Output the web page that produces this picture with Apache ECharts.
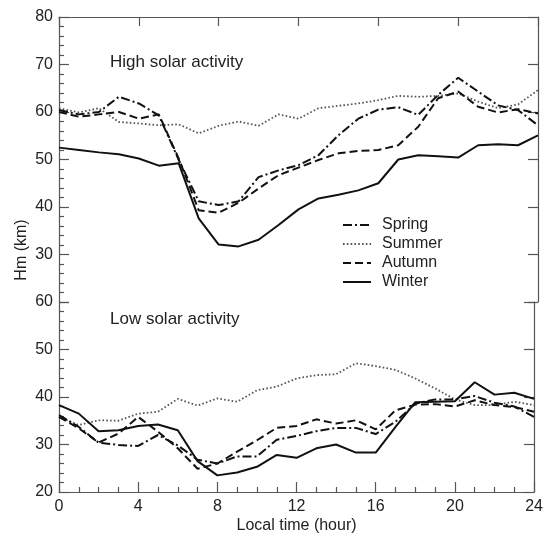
<!DOCTYPE html>
<html>
<head>
<meta charset="utf-8">
<script src="https://cdn.jsdelivr.net/npm/echarts@6/dist/echarts.min.js"></script>
<style>
html,body{margin:0;padding:0;background:#fff;}
#chart{width:546px;height:536px;}
</style>
</head>
<body>
<div id="chart"></div>
<script>
// Local time (hour)
var hours = [0,1,2,3,4,5,6,7,8,9,10,11,12,13,14,15,16,17,18,19,20,21,22,23,24];
var xTicks = [0,4,8,12,16,20,24];
var yTicksHigh = [30,40,50,60,70,80];
var yTicksLow = [20,30,40,50,60];
var seasons = ['Spring','Summer','Autumn','Winter'];

// High solar activity, Hm (km)
var highSpring = [60.4,59.5,60.0,63.2,61.8,59.3,49.9,41.2,40.4,41.2,46.3,47.7,48.8,50.9,55.1,58.6,60.5,61.0,59.4,63.6,67.2,64.3,61.4,60.4,57.2];
var highSummer = [60.8,59.9,60.8,57.9,57.6,57.2,57.4,55.5,57.1,58.0,57.1,59.5,58.6,60.8,61.3,61.8,62.5,63.4,63.2,63.4,63.9,62.2,60.8,61.6,64.6];
var highAutumn = [60.0,59.0,59.5,60.0,58.6,59.5,50.2,39.3,38.8,40.9,43.9,46.7,48.3,49.9,51.3,51.8,52.0,53.0,56.9,62.9,64.3,61.1,59.9,60.6,59.7];
var highWinter = [52.5,52.0,51.5,51.1,50.2,48.7,49.2,37.6,32.1,31.7,33.1,36.2,39.5,41.8,42.6,43.5,45.0,50.0,50.9,50.7,50.4,53.0,53.2,53.0,55.1];

// Low solar activity, Hm (km)
var lowSpring = [36.2,33.7,30.4,29.9,29.7,32.0,29.8,26.8,26.0,27.5,27.5,31.0,31.8,32.8,33.5,33.5,32.2,34.8,38.6,39.5,39.5,40.2,38.8,38.0,35.8];
var lowSummer = [35.8,34.1,35.1,35.0,36.5,36.9,39.6,38.2,39.7,39.0,41.4,42.2,43.9,44.6,44.8,47.1,46.5,45.7,43.9,41.8,39.5,38.3,38.3,39.0,38.3];
var lowAutumn = [35.8,33.4,30.4,32.3,35.8,32.7,29.2,24.9,26.0,28.5,30.9,33.5,33.9,35.3,34.4,35.1,33.2,37.2,38.4,38.5,38.0,39.3,38.3,37.9,36.9];
var lowWinter = [38.3,36.5,32.8,33.0,33.9,34.2,33.0,26.5,23.5,24.1,25.3,27.8,27.2,29.2,30.0,28.3,28.3,33.7,38.9,39.0,39.1,43.1,40.5,40.9,39.6];

function pairs(vals){ return hours.map(function(h,i){ return [h, vals[i]]; }); }

var FONT = 'Liberation Sans, Arial, sans-serif';
var AXIS_COLOR = '#555';
var styles = {
  Spring: {color:'#111', width:2, type:[9,3,2,3]},
  Summer: {color:'#555', width:1.8, type:[1.6,2.2]},
  Autumn: {color:'#111', width:2, type:[8,4]},
  Winter: {color:'#111', width:2, type:'solid'}
};

function mkSeries(name, vals, gi){
  return {
    name: name, type: 'line', xAxisIndex: gi, yAxisIndex: gi*2,
    data: pairs(vals), symbol: 'none', showSymbol: false, smooth: false,
    lineStyle: styles[name], itemStyle: {color: styles[name].color},
    emphasis: {disabled: true}, z: name === 'Summer' ? 1 : 2
  };
}

function yAxisPair(gridIndex, minV, maxV, hideMin){
  return [{
    type:'value', gridIndex:gridIndex, position:'left', min:minV, max:maxV, interval:10,
    axisLine:{show:true, lineStyle:{color:AXIS_COLOR, width:1.2}},
    axisTick:{show:true, inside:true, length:10, lineStyle:{color:AXIS_COLOR, width:1.2}},
    minorTick:{show:true, splitNumber:5, length:5, lineStyle:{color:AXIS_COLOR, width:1.2}},
    splitLine:{show:false},
    axisLabel:{show:true, margin:6, color:'#222', fontSize:16, fontFamily:FONT,
      formatter:function(v){ return (hideMin && v === minV) ? '' : String(v); }}
  },{
    type:'value', gridIndex:gridIndex, position:'right', min:minV, max:maxV, interval:10,
    axisLine:{show:true, lineStyle:{color:AXIS_COLOR, width:1.2}},
    axisTick:{show:true, inside:true, length:10, lineStyle:{color:AXIS_COLOR, width:1.2}},
    splitLine:{show:false}, axisLabel:{show:false}
  }];
}

var chart = echarts.init(document.getElementById('chart'), null, {renderer:'canvas'});
var option = {
  animation: false,
  backgroundColor: '#fff',
  grid: [
    {left:59, right:8, top:17, height:285},
    {left:59, right:8, top:302, height:190}
  ],
  xAxis: [{
    type:'value', gridIndex:0, position:'top', min:0, max:24, interval:4,
    axisLine:{show:true, lineStyle:{color:AXIS_COLOR, width:1.2}},
    axisTick:{show:true, inside:true, length:9, lineStyle:{color:AXIS_COLOR, width:1.2}},
    splitLine:{show:false}, axisLabel:{show:false}
  },{
    type:'value', gridIndex:1, position:'bottom', min:0, max:24, interval:4,
    axisLine:{show:true, lineStyle:{color:AXIS_COLOR, width:1.2}},
    axisTick:{show:true, inside:true, length:10, lineStyle:{color:AXIS_COLOR, width:1.2}},
    minorTick:{show:true, splitNumber:4, length:5, lineStyle:{color:AXIS_COLOR, width:1.2}},
    splitLine:{show:false},
    axisLabel:{show:true, margin:7, color:'#222', fontSize:16, fontFamily:FONT},
    name:'Local time (hour)', nameLocation:'middle', nameGap:26,
    nameTextStyle:{color:'#222', fontSize:16, fontFamily:FONT}
  }],
  yAxis: yAxisPair(0, 20, 80, true).concat(yAxisPair(1, 20, 60, false)),
  legend: {
    data: seasons, orient:'vertical', left:342, top:217, padding:0,
    itemWidth:28, itemHeight:14, itemGap:3,
    itemStyle:{color:'rgba(0,0,0,0)', borderColor:'rgba(0,0,0,0)', borderWidth:0, opacity:0},
    textStyle:{color:'#222', fontSize:16, fontFamily:FONT, padding:[0,0,0,6]},
    selectedMode:false
  },
  graphic: [
    {type:'text', x:110, y:62, style:{text:'High solar activity', fontSize:17, fontFamily:FONT, fill:'#222', align:'left', verticalAlign:'middle'}},
    {type:'text', x:110, y:319, style:{text:'Low solar activity', fontSize:17, fontFamily:FONT, fill:'#222', align:'left', verticalAlign:'middle'}},
    {type:'text', x:22, y:250, rotation:Math.PI/2, style:{text:'Hm (km)', fontSize:16, fontFamily:FONT, fill:'#222', align:'center', verticalAlign:'middle'}}
  ],
  series: [
    mkSeries('Spring', highSpring, 0),
    mkSeries('Summer', highSummer, 0),
    mkSeries('Autumn', highAutumn, 0),
    mkSeries('Winter', highWinter, 0),
    mkSeries('Spring', lowSpring, 1),
    mkSeries('Summer', lowSummer, 1),
    mkSeries('Autumn', lowAutumn, 1),
    mkSeries('Winter', lowWinter, 1)
  ]
};
chart.setOption(option);
</script>
</body>
</html>
